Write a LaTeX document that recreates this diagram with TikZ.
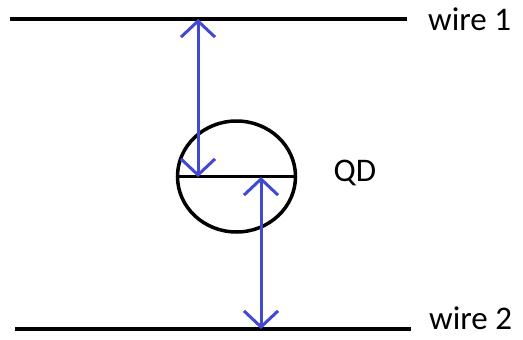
\documentclass[tikz,border=0pt]{standalone}
\usepackage{fontspec}
\setmainfont{Carlito}
\usepackage{xcolor}
\usepackage{tikz}
\usetikzlibrary{arrows.meta, positioning, shapes.geometric}
\definecolor{dist}{HTML}{4149D0}
\tikzset{
	wire/.style={draw=black, line width=3.5pt},
	dot/.style={ellipse, draw=black, line width=3.5pt, minimum width=118pt, minimum height=111pt, inner sep=0pt},
	lbl/.style={font=\fontsize{33}{38}\selectfont, inner sep=0pt},
	arr/.style={{Straight Barb[length=16pt, width=34pt]}-{Straight Barb[length=16pt, width=34pt]}, line width=3pt, dist},
}
\begin{document}
\begin{tikzpicture}[x=1pt, y=-1pt]
		\useasboundingbox (0,0) rectangle (523,340);

		\coordinate (w1a) at (10,19);
		\coordinate (w1b) at (407,19);
		\coordinate (w2a) at (15,329);
		\coordinate (w2b) at (411,329);
		\draw[wire] (w1a) -- (w1b);
		\draw[wire] (w2a) -- (w2b);
		\node[lbl, anchor=west] (l1) at (428,19) {wire 1};
		\node[lbl, anchor=west] (l2) at (429,318) {wire 2};

		\node[dot] (qd) at (236.5,176.5) {};
		\draw[wire] (qd.west) -- (qd.east);
		\node[lbl] (ql) at (355,173) {QD};

		\coordinate (t1) at (198,19);
		\coordinate (m1) at (198,177);
		\coordinate (m2) at (261,177);
		\coordinate (t2) at (261,329);
		\draw[arr] (t1) -- (m1);
		\draw[arr] (m2) -- (t2);
	\end{tikzpicture}
\end{document}
